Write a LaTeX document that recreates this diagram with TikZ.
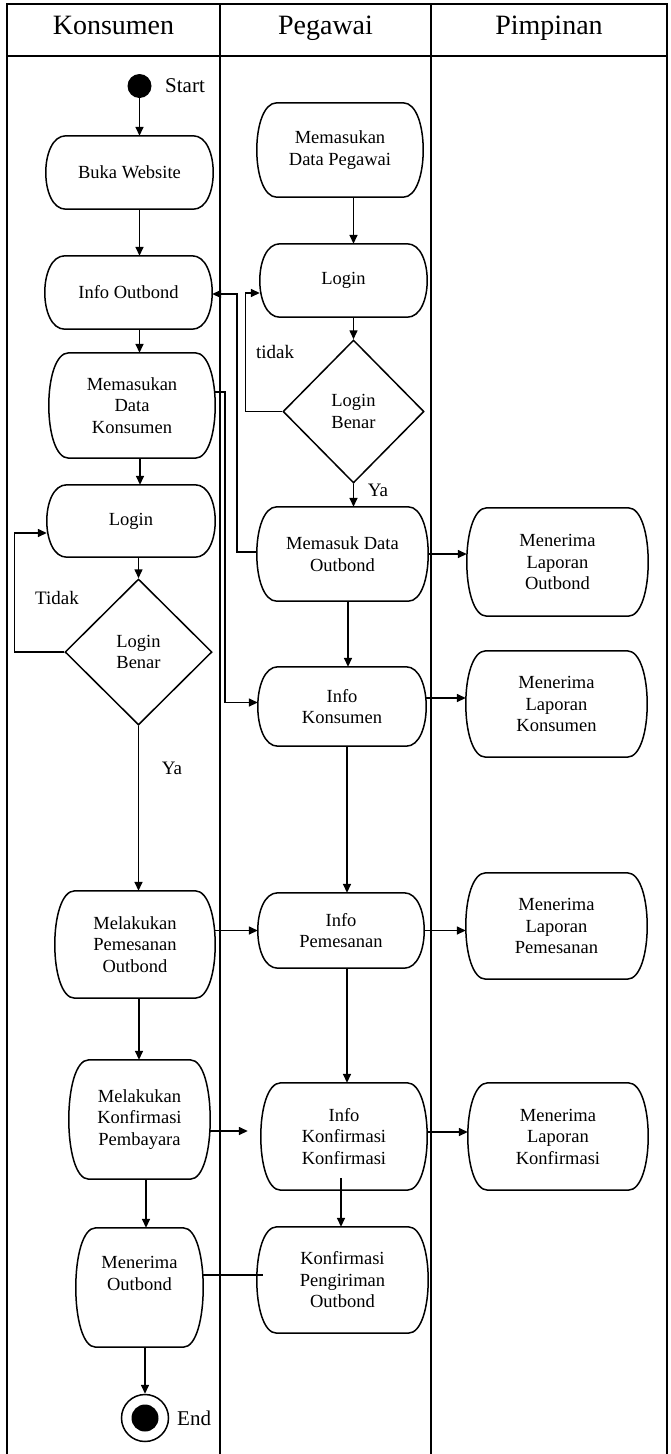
\documentclass[tikz,border=0pt]{standalone}
\usepackage{fontspec}
\setmainfont{Liberation Serif}
\usetikzlibrary{arrows.meta,shapes.geometric,calc}
\newcommand\actfont{\fontsize{18.5}{21.5}\selectfont}
\newcommand\hdrfont{\fontsize{28}{32}\selectfont}
\newcommand\lblfont{\fontsize{19}{22}\selectfont}
\newcommand\selfont{\fontsize{21}{24}\selectfont}
\tikzset{
  lane/.style={line width=1.7pt},
  act/.style={draw=none, inner sep=0pt, align=center, font=\actfont},
  dec/.style={diamond, draw, line width=1.5pt, inner sep=0pt, align=center, font=\actfont},
  flow/.style={line width=1.5pt, -{Triangle[length=9pt,width=8pt]}},
  plainline/.style={line width=1.5pt},
  outline/.style={line width=1.5pt},
  lbl/.style={font=\lblfont, inner sep=0pt},
  hdr/.style={font=\hdrfont, inner sep=0pt, anchor=base},
}
\begin{document}
\begin{tikzpicture}[x=1pt,y=-1pt]
\useasboundingbox (0,0) rectangle (670,1454);
% swimlane table
\draw[lane] (7,1454) -- (7,4) -- (667,4) -- (667,1454);
\draw[lane] (7,56) -- (667,56);
\draw[lane] (220,4) -- (220,1454);
\draw[lane] (431,4) -- (431,1454);
\node[hdr] (hK) at (113.5,34) {Konsumen};
\node[hdr] (hP) at (325.5,34) {Pegawai};
\node[hdr] (hM) at (549,34) {Pimpinan};

% Konsumen lane
\node[circle, fill, minimum size=24pt, inner sep=0pt] (start) at (139.5,86) {};
\node[font=\selfont, inner sep=0pt, anchor=west] (startlbl) at (165,86) {Start};
\node[act, minimum width=167pt, minimum height=73pt] (buka) at (129.5,172.5) {Buka Website};
\node[act, minimum width=167pt, minimum height=73pt] (infoo) at (128.5,292.5) {Info Outbond};
\node[act, minimum width=166pt, minimum height=105pt] (mdk) at (132,405.5) {Memasukan\\Data\\Konsumen};
\node[act, minimum width=168pt, minimum height=72pt] (loginK) at (131,521) {Login};
\node[dec, minimum width=147pt, minimum height=146pt] (decK) at (138.5,652) {Login\\Benar};
\node[act, minimum width=160pt, minimum height=107pt] (mpo) at (135,944.5) {Melakukan\\Pemesanan\\Outbond};
\node[act, minimum width=141pt, minimum height=119pt] (mkp) at (139.5,1119.5) {Melakukan\\Konfirmasi\\Pembayara};
\node[act, minimum width=127pt, minimum height=119pt] (mo) at (139.5,1287.5) {Menerima\\Outbond\\\strut};
\node[circle, draw, line width=1.5pt, minimum size=47pt, inner sep=0pt] (end) at (145,1418) {};
\node[circle, fill, minimum size=27pt, inner sep=0pt] (endin) at (end) {};
\node[font=\selfont, inner sep=0pt, anchor=west] (endlbl) at (177,1418) {End};

% Pegawai lane
\node[act, minimum width=166pt, minimum height=94pt] (mdp) at (340,150) {Memasukan\\Data Pegawai};
\node[act, minimum width=167pt, minimum height=73pt] (loginP) at (343.5,280.5) {Login};
\node[dec, minimum width=141pt, minimum height=143pt] (decP) at (353.5,411.5) {Login\\Benar};
\node[act, minimum width=171pt, minimum height=94pt] (mdo) at (342.5,554) {Memasuk Data\\Outbond};
\node[act, minimum width=168pt, minimum height=79pt] (ik) at (342,706.5) {Info\\Konsumen};
\node[act, minimum width=166pt, minimum height=75pt] (ip) at (341,930.5) {Info\\Pemesanan};
\node[act, minimum width=166pt, minimum height=107pt] (ikk) at (344,1136.5) {Info\\Konfirmasi\\Konfirmasi};
\node[act, minimum width=171pt, minimum height=106pt] (kpo) at (342.5,1280) {Konfirmasi\\Pengiriman\\Outbond};

% Pimpinan lane
\node[act, minimum width=181pt, minimum height=108pt] (mlo) at (557.5,562) {Menerima\\Laporan\\Outbond};
\node[act, minimum width=181pt, minimum height=106pt] (mlk) at (556.5,704) {Menerima\\Laporan\\Konsumen};
\node[act, minimum width=181pt, minimum height=106pt] (mlp) at (556.5,926) {Menerima\\Laporan\\Pemesanan};
\node[act, minimum width=180pt, minimum height=107pt] (mlkf) at (558,1136.5) {Menerima\\Laporan\\Konfirmasi};

% activity outlines
\foreach \n in {buka,infoo,mdk,loginK,mpo,mkp,mo,mdp,loginP,mdo,ik,ip,ikk,kpo,mlo,mlk,mlp,mlkf}{
  \draw[outline] ([xshift=20pt]\n.north west) -- ([xshift=-20pt]\n.north east)
    .. controls ([xshift=6.7pt]\n.north east) and ([xshift=6.7pt]\n.south east) .. ([xshift=-20pt]\n.south east)
    -- ([xshift=20pt]\n.south west)
    .. controls ([xshift=-6.7pt]\n.south west) and ([xshift=-6.7pt]\n.north west) .. ([xshift=20pt]\n.north west) -- cycle;
}

% labels
\node[lbl] (tidakK) at (57,598) {Tidak};
\node[lbl] (yaK) at (172,768) {Ya};
\node[lbl] (tidakP) at (275,352) {tidak};
\node[lbl] (yaP) at (378,490) {Ya};

% Konsumen flow
\draw[flow] (start.south) -- (start.south |- buka.north);
\draw[flow] (buka.south -| start) -- (infoo.north -| start);
\draw[flow] (infoo.south -| start) -- (mdk.north -| start);
\draw[flow] ([xshift=8pt]mdk.south) -- ([xshift=8pt]mdk.south |- loginK.north);
\draw[flow] (loginK.south -| decK) -- (decK.north);
\draw[flow] (decK.west) -- ++(-50,0) |- ([yshift=-12pt]loginK.west);
\draw[flow] (decK.south) -- (decK.south |- mpo.north);
\draw[flow] (mpo.east |- ip) -- (ip.west);
\draw[flow] ([xshift=4pt]mpo.south) -- ([xshift=4pt]mpo.south |- mkp.north);
\draw[flow, shorten >=13pt] ([yshift=-11.5pt]mkp.east) -- ([yshift=-11.5pt]mkp.east -| ikk.west);
\draw[flow] ([xshift=6.5pt]mkp.south) -- ([xshift=6.5pt]mkp.south |- mo.north);
\draw[flow] (mo.south -| end) -- (end.north);
\draw[plainline] ([yshift=12.5pt]mo.east) -- ([yshift=12.5pt,xshift=6pt]mo.east -| kpo.west);

% Pegawai flow
\draw[flow] (mdp.south -| decP) -- (loginP.north -| decP);
\draw[flow] (loginP.south -| decP) -- (decP.north);
\draw[flow] (decP.west) -- ++(-37,0) |- ([yshift=-12.5pt]loginP.west);
\draw[flow] (decP.south) -- (decP.south |- mdo.north);
\draw[flow] ([yshift=2pt]mdo.west) -- ++(-20,0) |- ([yshift=-1.5pt]infoo.east);
\draw[flow] ([yshift=13.5pt]mdk.east) -- ++(10,0) |- ([yshift=4pt]ik.west);
\draw[flow] ([xshift=5.5pt]mdo.south) -- ([xshift=5.5pt]mdo.south |- ik.north);
\draw[flow] ([xshift=5pt]ik.south) -- ([xshift=5pt]ik.south |- ip.north);
\draw[flow] ([xshift=6pt]ip.south) -- ([xshift=6pt]ip.south |- ikk.north);
\draw[flow] ([xshift=-3pt,yshift=12pt]ikk.south) -- ([xshift=-3pt]ikk.south |- kpo.north);

% to Pimpinan
\draw[flow] (mdo.east) -- (mdo.east -| mlo.west);
\draw[flow] ([yshift=8.5pt]ik.east) -- ([yshift=8.5pt]ik.east -| mlk.west);
\draw[flow] (ip.east) -- (ip.east -| mlp.west);
\draw[flow] ([yshift=4.5pt]ikk.east) -- ([yshift=4.5pt]ikk.east -| mlkf.west);
\end{tikzpicture}
\end{document}
